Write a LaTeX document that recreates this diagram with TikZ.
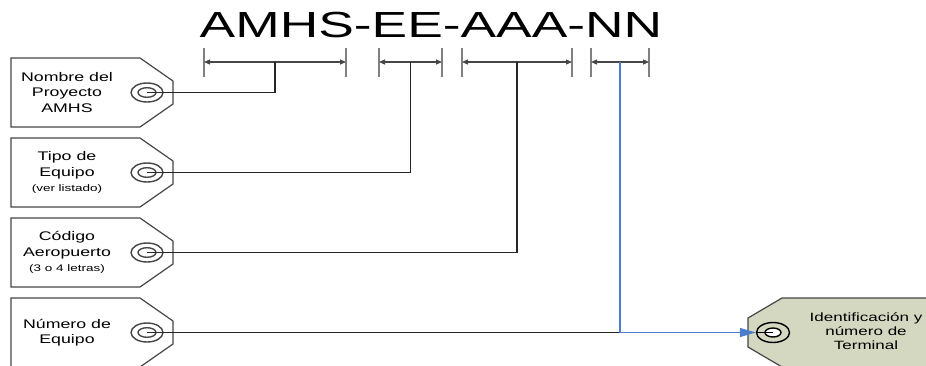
\documentclass[tikz,border=0pt]{standalone}
\usepackage{fontspec}
\setmainfont{Liberation Sans}
\usetikzlibrary{arrows.meta,shapes.geometric}
\definecolor{etiq}{RGB}{213,216,193}
\definecolor{azul}{RGB}{74,126,200}
\definecolor{borde}{RGB}{70,70,70}

\begin{document}
\begin{tikzpicture}[x=1pt,y=-1pt,
    texto/.style={xscale=1.42,align=center,inner sep=0pt,font=\fontsize{12.5}{15.5}\selectfont},
    marca/.style={gray,line width=1.8pt},
    cota/.style={<->,>={Triangle[length=6pt,width=5pt]},borde,line width=1.2pt},
    etiqueta/.style={borde,line width=1.2pt,fill=white},
    linea/.style={black!85,line width=1.2pt}]
  \useasboundingbox (0,0) rectangle (926,365);
  \node[xscale=1.47,anchor=base,inner sep=0pt,font=\fontsize{36.3}{40}\selectfont] (codigo) at (431,37) {AMHS-EE-AAA-NN};
  \foreach \n/\a/\b in {1/204/346,2/379/442,3/462/572,4/591/649}{
    \draw[marca] (\a,48)--(\a,77);
    \draw[marca] (\b,48)--(\b,77);
    \draw[cota] (\a,62)--(\b,62);
    \coordinate (d\n) at ({(\a+\b)/2},62);
  }
  \foreach \n/\c in {1/92.5,2/172.5,3/252.5,4/332.5}{
    \draw[etiqueta] (11,\c-34.5)--(140,\c-34.5)--(173,\c-11.5)--(173,\c+11.5)--(140,\c+34.5)--(11,\c+34.5)--cycle;
    \draw[borde,line width=1.4pt] (147,\c) ellipse (16 and 9.5) (147,\c) ellipse (9 and 4.8);
    \coordinate (t\n) at (147,\c);
  }
  \node[texto] (nombre) at (67,92.5) {Nombre del\\Proyecto\\AMHS};
  \node[texto] (tipo) at (67,172.5) {Tipo de\\Equipo\\{\fontsize{9.5}{11}\selectfont(ver listado)}};
  \node[texto] (aero) at (67,252.5) {Código\\Aeropuerto\\{\fontsize{9.5}{11}\selectfont(3 o 4 letras)}};
  \node[texto] (numero) at (67,332.5) {Número de\\Equipo};
  % etiqueta de la terminal
  \draw[borde,fill=etiq,line width=1.2pt] (782,298)--(940,298)--(940,367)--(782,367)--(748,347)--(748,318)--cycle;
  \node[draw=black,fill=etiq,line width=1.4pt,ellipse,minimum width=33,minimum height=20,inner sep=0pt] (diana) at (773,332.5) {};
  \draw[black,line width=1.4pt,fill=white] (diana.center) ellipse (8 and 4.5);
  \node[texto,font=\fontsize{12}{14}\selectfont] (terminal) at (866,331) {Identificación y\\número de\\Terminal};
  \draw[linea] (t1) -| (d1);
  \draw[linea] (t2) -| (d2);
  \draw[linea] (t3) -| (d3);
  \draw[linea] (t4) -- (t4 -| d4);
  \draw[azul,line width=1.2pt,-{Triangle[length=16pt,width=9pt]}] (d4) |- (diana.west);
  \draw[black,line width=1.2pt] (diana.west) -- (diana.center);
\end{tikzpicture}
\end{document}
